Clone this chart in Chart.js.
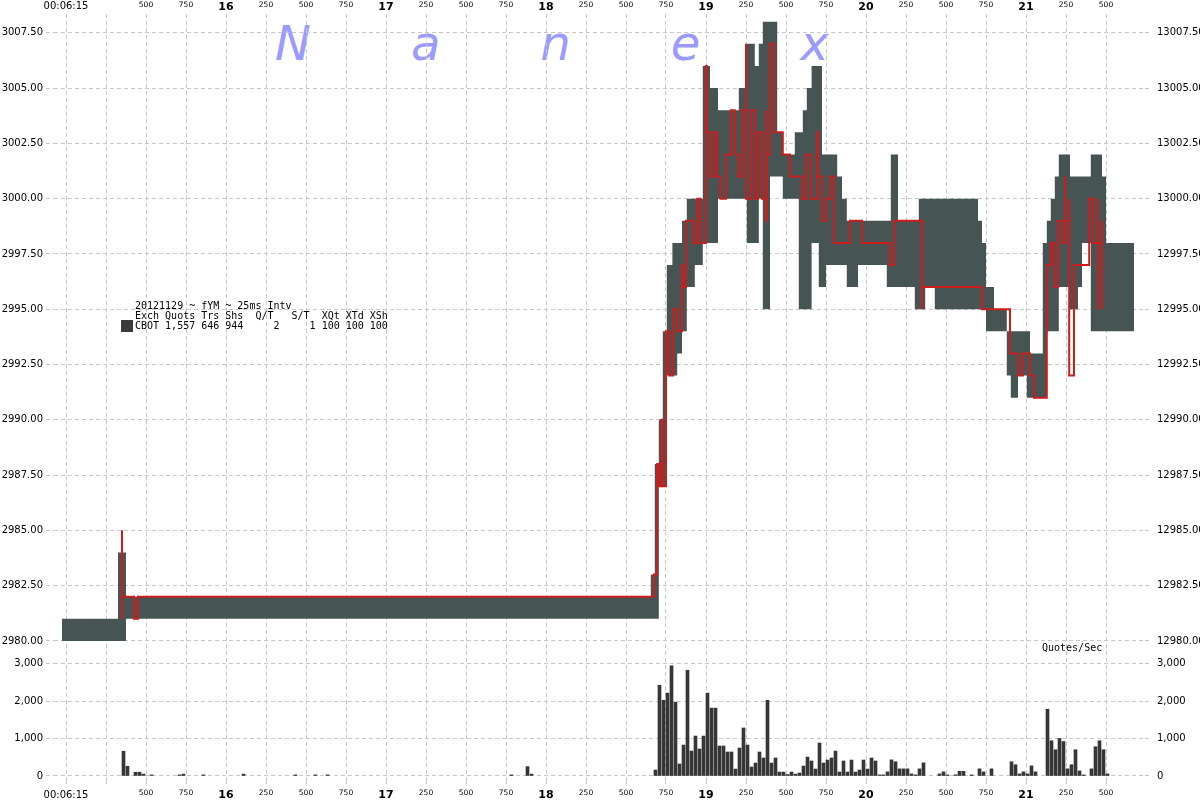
<!DOCTYPE html>
<html>
<head>
<meta charset="utf-8">
<title>fYM quotes 20121129</title>
<script src="https://cdn.jsdelivr.net/npm/chart.js"></script>
<style>
  body { margin: 0; background: #fff; }
  #wrap { position: relative; width: 1200px; height: 800px; overflow: hidden; }
  #chart { position: absolute; left: 0; top: 0; z-index: 1; }
  .watermark { position: absolute; left: 275px; top: 19px; font: italic 48px/48px "DejaVu Sans"; color: #9a9aff; letter-spacing: 100px; white-space: pre; z-index: 0; }
  .info { position: absolute; left: 135px; top: 301px; font: 10px/10px "DejaVu Sans Mono"; color: #000; white-space: pre; z-index: 2; }
  .swatch { position: absolute; left: 121px; top: 320px; width: 12px; height: 12px; background: #3a3a3a; z-index: 2; }
  .unit { position: absolute; left: 1042px; top: 643px; font: 10px/10px "DejaVu Sans Mono"; color: #000; white-space: pre; z-index: 2; }
</style>
</head>
<body>
<div id="wrap">
  <div class="watermark" id="watermark"></div>
  <canvas id="chart" width="1200" height="800"></canvas>
  <div class="swatch"></div>
  <div class="info" id="info"></div>
  <div class="unit" id="unit"></div>
</div>
<script>
// times are ms after 00:06:00 (15000 = 00:06:15.000)
const tickOrigin = 15000;
const tickOriginLabel = '00:06:15';
const hiddenTicks = [15250];
const rightAxisOffset = 10000;
const priceTicks = [2980, 2982.5, 2985, 2987.5, 2990, 2992.5, 2995, 2997.5, 3000, 3002.5, 3005, 3007.5];
const volTicks = [0, 1000, 2000, 3000];

// bid/ask range (grey band), each step holds until the next time
const quoteTime = [14975, 15325, 15375, 18655, 18680, 18705, 18730, 18755, 18790, 18820,
  18850, 18880, 18930, 18980, 19025, 19075, 19205, 19255, 19305, 19330,
  19355, 19400, 19445, 19480, 19555, 19580, 19605, 19630, 19660, 19705,
  19725, 19750, 19820, 19850, 19880, 19950, 20130, 20155, 20200, 20305,
  20330, 20370, 20430, 20700, 20725, 20750, 20800, 20880, 20905, 20950,
  21005, 21025, 21105, 21130, 21155, 21180, 21205, 21275, 21325, 21350,
  21405, 21475, 21500, 21675];
const quoteLow = [2980, 2980, 2981, 2981, 2981, 2987, 2987, 2992, 2992, 2993,
  2994, 2996, 2997, 2998, 2998, 3000, 3000, 2998, 2998, 3000,
  2995, 3001, 3001, 3000, 3000, 2995, 2995, 2995, 2998, 2996,
  2996, 2997, 2997, 2997, 2996, 2997, 2996, 2996, 2996, 2995,
  2995, 2996, 2995, 2995, 2995, 2994, 2994, 2992, 2991, 2992,
  2991, 2991, 2991, 2994, 2994, 2994, 2996, 2995, 2996, 2998,
  2994, 2994, 2994, 2994];
const quoteHigh = [2981, 2984, 2982, 2983, 2988, 2990, 2994, 2997, 2998, 2998,
  2999, 3000, 3000, 3006, 3005, 3004, 3005, 3007, 3006, 3007,
  3008, 3008, 3003, 3002, 3003, 3003, 3004, 3005, 3006, 3006,
  3002, 3002, 3001, 3000, 2999, 2999, 2999, 3002, 2999, 2999,
  3000, 3000, 3000, 2999, 2998, 2996, 2995, 2994, 2994, 2994,
  2994, 2993, 2998, 2999, 3000, 3001, 3002, 3001, 3001, 3001,
  3002, 3001, 2998, 2998];

// trade price (red step line)
const tradeTime = [15350, 15350, 15350, 15425, 15450, 18675, 18695, 18705, 18720, 18725,
  18750, 18770, 18795, 18820, 18850, 18855, 18875, 18920, 18945, 18965,
  19000, 19005, 19025, 19050, 19070, 19090, 19125, 19155, 19180, 19200,
  19225, 19250, 19250, 19280, 19305, 19325, 19350, 19375, 19375, 19380,
  19400, 19425, 19480, 19525, 19600, 19625, 19655, 19695, 19700, 19725,
  19750, 19775, 19800, 19900, 19975, 20150, 20175, 20350, 20350, 20725,
  20900, 20950, 20980, 21025, 21050, 21130, 21155, 21175, 21200, 21225,
  21245, 21245, 21270, 21270, 21300, 21395, 21420, 21450, 21450, 21450,
  21475, 21475];
const tradePrice = [2981, 2985, 2982, 2981, 2982, 2983, 2988, 2987, 2990, 2987,
  2994, 2992, 2995, 2994, 2997, 2996, 2999, 2998, 3000, 2998,
  3006, 3003, 3001, 3003, 3001, 3000, 3002, 3004, 3002, 3001,
  3004, 3007, 3000, 3004, 3000, 3003, 3000, 3004, 2999, 3002,
  3007, 3003, 3002, 3001, 3000, 3002, 3000, 3003, 3001, 2999,
  3000, 3001, 2998, 2999, 2998, 2997, 2999, 2995, 2996, 2995,
  2993, 2992, 2993, 2992, 2991, 2997, 2998, 2996, 2999, 2998,
  3001, 2999, 3000, 2992, 2997, 3000, 2998, 3000, 2995, 2998,
  2999, 2995];

// quotes per second, 25ms buckets (bucket start time)
const volTime = [15350, 15375, 15425, 15450, 15475, 15525, 15700, 15725, 15850, 16100,
  16425, 16550, 16625, 17775, 17875, 17900,
  18675, 18700, 18725, 18750, 18775, 18800, 18825, 18850, 18875, 18900,
  18925, 18950, 18975, 19000, 19025, 19050, 19075, 19100, 19125, 19150,
  19175, 19200, 19225, 19250, 19275, 19300, 19325, 19350, 19375, 19400,
  19425, 19450, 19475, 19500, 19525, 19550, 19575, 19600, 19625, 19650,
  19675, 19700, 19725, 19750, 19775, 19800, 19825, 19850, 19875, 19900,
  19925, 19950, 19975, 20000, 20025, 20050, 20075, 20100, 20125, 20150,
  20175, 20200, 20225, 20250, 20275, 20300, 20325, 20350, 20450, 20475,
  20500, 20550, 20575, 20600, 20650, 20700, 20725, 20775, 20900, 20925,
  20950, 20975, 21000, 21025, 21050, 21125, 21150, 21175, 21200, 21225,
  21250, 21275, 21300, 21325, 21350, 21400, 21425, 21450, 21475, 21500];
const volQuotes = [660, 260, 100, 100, 50, 30, 30, 50, 30, 50,
  30, 30, 30, 30, 250, 50,
  160, 2420, 2020, 2210, 2940, 1970, 320, 825, 2820, 665,
  1065, 720, 1065, 2210, 1810, 1810, 800, 800, 640, 640,
  185, 745, 1280, 825, 240, 345, 640, 480, 2020, 345,
  480, 105, 105, 40, 105, 50, 80, 265, 505, 400,
  185, 880, 345, 425, 480, 665, 105, 400, 105, 425,
  105, 160, 425, 185, 480, 400, 30, 30, 110, 430,
  380, 190, 190, 190, 55, 30, 190, 350, 55, 110,
  30, 30, 125, 125, 30, 190, 110, 190, 380, 300,
  55, 110, 55, 270, 110, 1780, 940, 700, 1000, 920,
  190, 300, 700, 135, 30, 190, 780, 940, 700, 55];

const infoLines = [
  '20121129 ~ fYM ~ 25ms Intv',
  'Exch Quots Trs Shs  Q/T   S/T  XQt XTd XSh',
  'CBOT 1,557 646 944     2     1 100 100 100'
];
const watermarkText = 'Nanex';
const unitLabel = 'Quotes/Sec';

document.getElementById('info').textContent = infoLines.join('\n');
document.getElementById('watermark').textContent = watermarkText;
document.getElementById('unit').textContent = unitLabel;

const family = 'DejaVu Sans';
const gridColor = '#c8c8c8';
const dash = [4, 3];
const axisStart = 14925;
const axisEnd = 21743.75;
const barOffsetMs = 9.375;

function timeLabel(v) {
  if (v === tickOrigin) return tickOriginLabel;
  if (hiddenTicks.includes(v)) return '';
  const ms = v % 1000;
  return ms === 0 ? String(v / 1000) : String(ms);
}

function timeFont(ctx) {
  const v = ctx.tick ? ctx.tick.value : 0;
  if (v === tickOrigin) return { family, size: 10 };
  if (v % 1000 === 0) return { family, size: 11, weight: 'bold' };
  return { family, size: 7.5 };
}

const xTicks = {
  stepSize: 250, autoSkip: false, maxRotation: 0, minRotation: 0, includeBounds: false,
  maxTicksLimit: 100, color: '#000', callback: timeLabel, font: timeFont
};

function yAxis(position, stack, weightVal, stackWeight, min, max, values, fmt) {
  const left = position === 'left';
  return {
    type: 'linear', position, stack, stackWeight, weight: weightVal, min, max,
    afterFit: s => { s.width = left ? 54 : 55; },
    afterBuildTicks: s => { s.ticks = values.map(value => ({ value })); },
    grid: {
      color: gridColor, tickColor: gridColor, tickBorderDash: dash,
      tickLength: left ? 8 : 6, drawOnChartArea: left
    },
    border: { display: false, dash },
    ticks: {
      autoSkip: false, padding: left ? 3 : 6,
      color: '#000', font: { family, size: 10 }, callback: fmt
    }
  };
}

const ctx = document.getElementById('chart').getContext('2d');
const chart = new Chart(ctx, {
  type: 'line',
  data: {
    datasets: [
      {
        label: 'Ask', data: quoteTime.map((t, i) => ({ x: t, y: quoteHigh[i] })),
        stepped: true, borderWidth: 0, borderColor: 'transparent', pointRadius: 0,
        fill: false, xAxisID: 'x', yAxisID: 'y', order: 3
      },
      {
        label: 'Bid', data: quoteTime.map((t, i) => ({ x: t, y: quoteLow[i] })),
        stepped: true, borderWidth: 0, borderColor: 'transparent', pointRadius: 0,
        fill: '-1', backgroundColor: '#465454', xAxisID: 'x', yAxisID: 'y', order: 2
      },
      {
        label: 'Trade', data: tradeTime.map((t, i) => ({ x: t, y: tradePrice[i] })),
        stepped: true, borderWidth: 2, borderColor: '#cc1c1c', pointRadius: 0,
        fill: false, xAxisID: 'x', yAxisID: 'y', order: 0
      },
      {
        type: 'bar', label: unitLabel,
        data: volTime.map((t, i) => ({ x: t + barOffsetMs, y: volQuotes[i] })),
        backgroundColor: '#363636', barThickness: 3, xAxisID: 'x', yAxisID: 'yv', order: 1
      }
    ]
  },
  options: {
    responsive: false,
    animation: false,
    devicePixelRatio: 1,
    events: [],
    layout: { padding: 0 },
    plugins: { legend: { display: false }, tooltip: { enabled: false } },
    scales: {
      x: {
        type: 'linear', position: 'bottom', min: axisStart, max: axisEnd, offset: false,
        afterFit: s => { s.height = 20; },
        grid: { color: gridColor, tickColor: gridColor, tickLength: 4, tickBorderDash: dash, offset: false },
        border: { display: false, dash },
        ticks: Object.assign({}, xTicks, { padding: 5 })
      },
      x2: {
        type: 'linear', axis: 'x', position: 'top', min: axisStart, max: axisEnd, offset: false,
        afterFit: s => { s.height = 14; },
        grid: { display: false, drawTicks: false, tickLength: 0 },
        border: { display: false },
        ticks: Object.assign({}, xTicks, { padding: 7, crossAlign: 'center' })
      },
      y: yAxis('left', 'left', 1, 638, 2979.5, 3008.35, priceTicks, v => v.toFixed(2)),
      yv: yAxis('left', 'left', 0, 128, -107, 3307, volTicks, v => v.toLocaleString('en-US')),
      yR: yAxis('right', 'right', 0, 638, 2979.5, 3008.35, priceTicks, v => (v + rightAxisOffset).toFixed(2)),
      yvR: yAxis('right', 'right', 1, 128, -107, 3307, volTicks, v => v.toLocaleString('en-US'))
    }
  }
});
</script>
</body>
</html>
